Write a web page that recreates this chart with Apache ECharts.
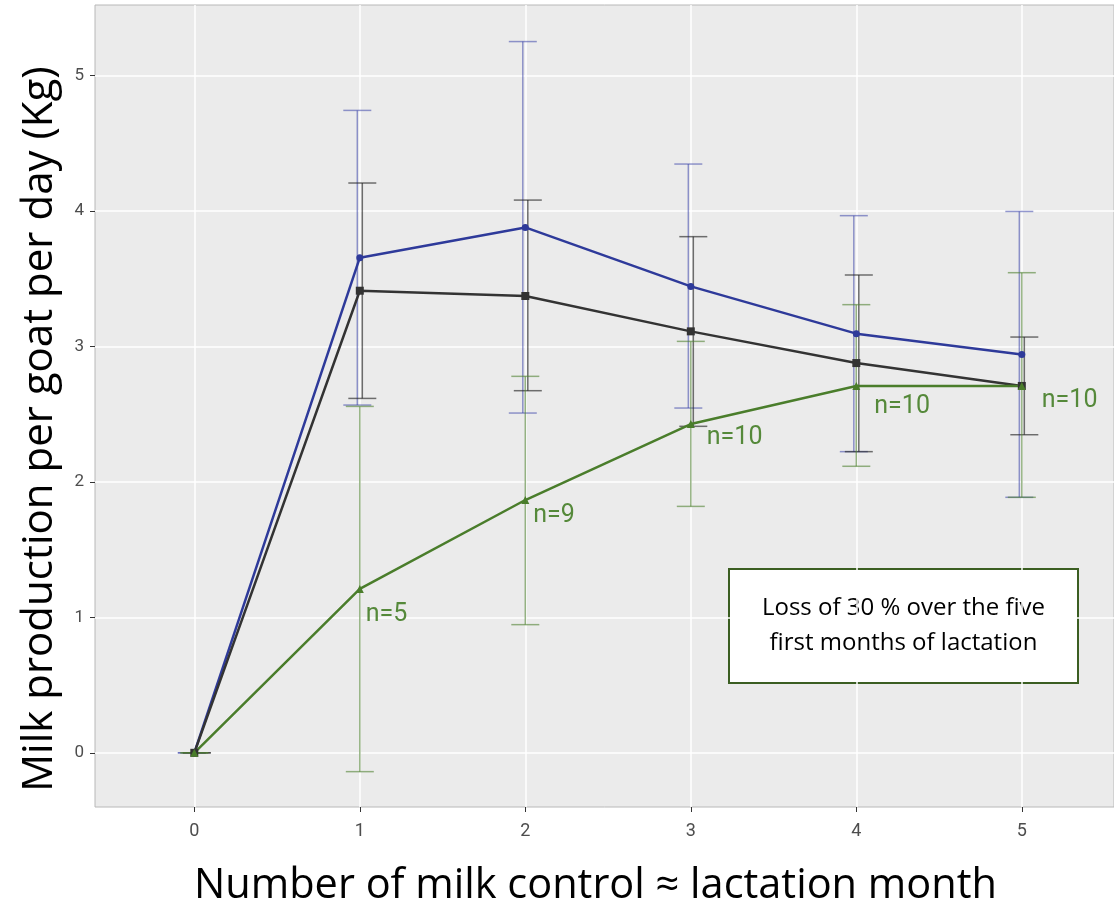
<!DOCTYPE html>
<html><head><meta charset="utf-8">
<script src="https://cdn.jsdelivr.net/npm/echarts@6/dist/echarts.min.js"></script>
<style>html,body{margin:0;padding:0;background:#fff}#c{width:1114px;height:906px}</style>
</head><body><div id="c"></div>
<script>
// ---- data ----
const months = [0, 1, 2, 3, 4, 5];
const xTicks = [0, 1, 2, 3, 4, 5];
const yTicks = [0, 1, 2, 3, 4, 5];

const blueMean  = [0, 3.655, 3.878, 3.443, 3.094, 2.941];
const blueLow   = [0, 2.567, 2.508, 2.545, 2.223, 1.886];
const blueHigh  = [0, 4.742, 5.250, 4.346, 3.965, 3.996];

const blackMean = [0, 3.411, 3.372, 3.111, 2.877, 2.708];
const blackLow  = [0, 2.616, 2.673, 2.410, 2.223, 2.348];
const blackHigh = [0, 4.206, 4.080, 3.810, 3.527, 3.069];

const greenMean = [0, 1.210, 1.866, 2.427, 2.708, 2.708];
const greenLow  = [0, -0.139, 0.946, 1.819, 2.115, 1.886];
const greenHigh = [0, 2.557, 2.779, 3.037, 3.308, 3.544];

const nLabels = ['', 'n=5', 'n=9', 'n=10', 'n=10', 'n=10'];
const annotationLines = ['Loss of 30 % over the five', 'first months of lactation'];
const xTitle = 'Number of milk control \u2248 lactation month';
const yTitle = 'Milk production per goat per day (Kg)';

// ---- styles ----
const BLUE = '#2E3A9A', BLACK = '#333333', GREEN = '#4A7D2B';
const labelOffsets = [[0, 0], [6, 26], [8, 16], [16, 14], [18, 21], [20, 15]];

function errSeries(name, low, high, color, dx) {
  return {
    type: 'custom', name: name, silent: true, z: 1,
    encode: { x: 0, y: [1, 2] },
    data: months.map((m, i) => [m, low[i], high[i]]),
    renderItem: function (params, api) {
      const x = api.value(0);
      const lo = api.coord([x, api.value(1)]);
      const hi = api.coord([x, api.value(2)]);
      const px = lo[0] + dx, w = 14;
      const style = { stroke: color, lineWidth: 1.5, fill: null };
      return { type: 'group', children: [
        { type: 'line', shape: { x1: px, y1: hi[1], x2: px, y2: lo[1] }, style: style },
        { type: 'line', shape: { x1: px - w, y1: hi[1], x2: px + w, y2: hi[1] }, style: style },
        { type: 'line', shape: { x1: px - w, y1: lo[1], x2: px + w, y2: lo[1] }, style: style }
      ]};
    }
  };
}

function lineSeries(name, mean, color, symbol, size) {
  return {
    type: 'line', name: name, z: 3,
    data: months.map((m, i) => [m, mean[i]]),
    symbol: symbol, symbolSize: size, showAllSymbol: true,
    lineStyle: { color: color, width: 2.5 },
    itemStyle: { color: color },
    emphasis: { disabled: true }
  };
}

const greenLine = lineSeries('Green', greenMean, GREEN, 'triangle', 8);
greenLine.data = months.map((m, i) => ({
  value: [m, greenMean[i]],
  label: { show: nLabels[i] !== '', offset: labelOffsets[i] }
}));
greenLine.label = {
  position: 'inside', align: 'left', verticalAlign: 'middle',
  formatter: p => nLabels[p.dataIndex],
  color: '#55893A', fontFamily: 'Roboto', fontSize: 25
};

const chart = echarts.init(document.getElementById('c'));
chart.setOption({
  animation: false,
  grid: {
    left: 95, top: 5, width: 1019, height: 802,
    containLabel: false, outerBoundsMode: 'none',
    show: true, backgroundColor: '#EBEBEB', borderColor: '#B8B8B8', borderWidth: 1
  },
  xAxis: {
    type: 'value', min: -0.6, max: 5.557,
    axisLine: { show: false, onZero: false },
    axisTick: { show: true, length: 5, customValues: xTicks, lineStyle: { color: '#333' } },
    axisLabel: { customValues: xTicks, margin: 15, color: '#4D4D4D', fontFamily: 'Roboto', fontSize: 18 },
    splitLine: { show: true, lineStyle: { color: '#FFFFFF', width: 1.5 } },
    name: xTitle, nameLocation: 'middle', nameGap: 58,
    nameTextStyle: { fontFamily: 'Open Sans', fontSize: 41.5, color: '#000', padding: [0, 18, 0, 0] }
  },
  yAxis: {
    type: 'value', min: -0.4, max: 5.52,
    axisLine: { show: false, onZero: false },
    axisTick: { show: true, length: 5, customValues: yTicks, lineStyle: { color: '#333' } },
    axisLabel: { customValues: yTicks, margin: 11, color: '#4D4D4D', fontFamily: 'Roboto', fontSize: 17 },
    splitLine: { show: true, lineStyle: { color: '#FFFFFF', width: 1.5 } },
    name: yTitle, nameLocation: 'middle', nameGap: 34,
    nameTextStyle: { fontFamily: 'Open Sans', fontSize: 42, color: '#000', padding: [0, 46, 0, 0] }
  },
  series: [
    errSeries('Blue SD', blueLow, blueHigh, 'rgba(60,70,170,0.55)', -2.5),
    errSeries('Black SD', blackLow, blackHigh, 'rgba(40,40,40,0.65)', 2.5),
    errSeries('Green SD', greenLow, greenHigh, 'rgba(80,130,50,0.6)', 0),
    lineSeries('Blue', blueMean, BLUE, 'circle', 7),
    lineSeries('Black', blackMean, BLACK, 'rect', 8),
    greenLine
  ],
  graphic: [{
    type: 'group', left: 728, top: 568,
    children: [
      { type: 'rect', shape: { x: 0, y: 0, width: 349, height: 114 },
        style: { fill: '#FFFFFF', stroke: '#3B5E22', lineWidth: 2 } },
      { type: 'text', x: 174.5, y: 57,
        style: { text: annotationLines.join('\n'), fill: '#000', fontFamily: 'Open Sans', fontSize: 24,
                 lineHeight: 35, align: 'center', verticalAlign: 'middle' } }
    ]
  }]
});
</script>
</body></html>
